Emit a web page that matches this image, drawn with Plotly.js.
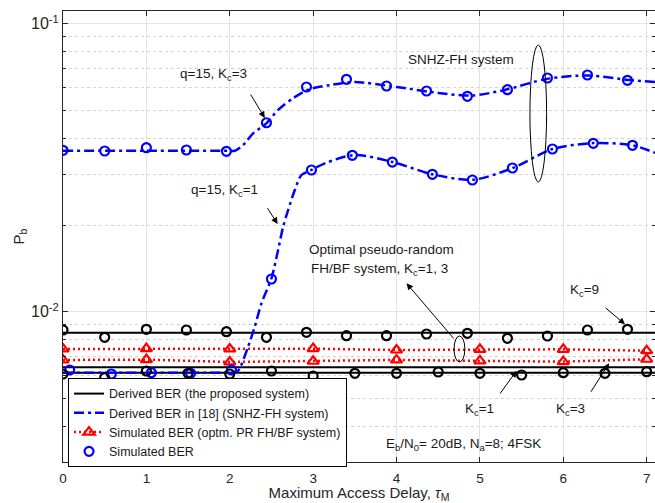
<!DOCTYPE html>
<html>
<head>
<meta charset="utf-8">
<script src="https://cdn.plot.ly/plotly-3.0.1.min.js"></script>
<style>html,body{margin:0;padding:0;background:#fff;}#chart{width:655px;height:503px;}</style>
</head>
<body>
<div id="chart"></div>
<script>
// ---- data ----
var tauSimA = [0, 0.5, 1, 1.48, 1.96, 2.44, 2.92, 3.40, 3.88, 4.36, 4.85, 5.33, 5.81, 6.29, 6.77];
var tauSimB = [0.08, 0.58, 1.06, 1.53, 2.02, 2.50, 2.98, 3.47, 3.95, 4.43, 4.91, 5.39, 5.87, 6.36, 6.83];
var tauHalf = [0, 0.5, 1, 1.5, 2, 2.5, 3, 3.5, 4, 4.5, 5, 5.5, 6, 6.5, 7];
var tauInt  = [0, 1, 2, 3, 4, 5, 6, 7];
var tauFlat = [0, 7.1];

// SNHZ-FH derived (ref [18]), q=15
var tauKc3Line = [0, 1, 2, 2.06, 2.16, 2.28, 2.44, 2.58, 2.76, 2.96, 3.2, 3.5, 4.0, 4.5, 4.9, 5.3, 5.8, 6.3, 6.8, 7.1];
var berKc3Line = [0.0362, 0.0362, 0.0362, 0.0362, 0.0379, 0.0416, 0.0451, 0.0502, 0.0551, 0.0593, 0.0612, 0.0627, 0.0603, 0.0575, 0.0563, 0.0589, 0.0643, 0.0661, 0.0637, 0.0627];
var tauKc1Line = [0, 1, 2, 2.08, 2.12, 2.22, 2.30, 2.38, 2.50, 2.58, 2.64, 2.70, 2.78, 2.86, 2.98, 3.14, 3.5, 3.95, 4.43, 4.91, 5.39, 5.87, 6.36, 6.83, 7.1];
var berKc1Line = [0.00614, 0.00614, 0.00614, 0.00616, 0.00636, 0.00756, 0.00887, 0.01069, 0.01306, 0.01638, 0.01973, 0.02254, 0.02646, 0.02983, 0.03105, 0.03275, 0.0350, 0.0331, 0.0300, 0.0287, 0.0315, 0.0367, 0.0385, 0.0378, 0.0356];

// SNHZ-FH simulated
var simKc3Snhz = [0.03634, 0.03614, 0.03710, 0.03643, 0.03605, 0.04530, 0.06029, 0.06410, 0.06078, 0.05839, 0.05597, 0.05901, 0.06478, 0.06635, 0.06360];
var simKc1Snhz = [0.006275, 0.006076, 0.006140, 0.006110, 0.006275, 0.01299, 0.03105, 0.03491, 0.03308, 0.03000, 0.02866, 0.03155, 0.03672, 0.03843, 0.03783];

// proposed system, derived
var derKc9 = [0.008455, 0.008455];
var derKc3 = [0.006410, 0.006410];
var derKc1 = [0.006140, 0.006140];
// proposed system, simulated
var simKc9 = [0.008639, 0.008148, 0.008687, 0.008639, 0.008522, 0.008148, 0.008481, 0.008254, 0.008254, 0.008366, 0.008414, 0.008083, 0.008234, 0.008639, 0.008687];
var simKc13 = [0.006076, 0.005900, 0.006224, 0.006110, 0.006076, 0.006224, 0.005981, 0.006110, 0.006110, 0.006174, 0.006110, 0.006029, 0.006140, 0.006110, 0.006189];

// optimal PR FH/BF simulated
var prKc3 = [0.007423, 0.007441, 0.007423, 0.007441, 0.007362, 0.007403, 0.007403, 0.007320];
var prKc1 = [0.006799, 0.006817, 0.006690, 0.006728, 0.006799, 0.006747, 0.006709, 0.006837];

var yTickVals = [0.01, 0.1];
var yTickText = ['10<sup>-2</sup>', '10<sup>-1</sup>'];
var yMinorVals = [0.004, 0.005, 0.006, 0.007, 0.008, 0.009, 0.02, 0.03, 0.04, 0.05, 0.06, 0.07, 0.08, 0.09];

// ---- styles ----
var BLUE = '#0000ff', RED = '#ff0000', BLK = '#000000';
var dashDot = '10px,4px,3px,4px';
var blueCircle = {symbol: 'circle-open', size: 9, color: BLUE, line: {width: 2.2, color: BLUE}};
var blackCircle = {symbol: 'circle-open', size: 9, color: BLK, line: {width: 2.2, color: BLK}};
var redTri = {symbol: 'triangle-up-open', size: 10, color: RED, line: {width: 2.2, color: RED}};

var traces = [
  {x: tauFlat, y: derKc9, mode: 'lines', line: {color: BLK, width: 2}, name: 'Derived BER (the proposed system)'},
  {x: tauKc3Line, y: berKc3Line, mode: 'lines', line: {color: BLUE, width: 2.5, dash: dashDot, shape: 'spline', smoothing: 0.8}, name: 'Derived BER in [18] (SNHZ-FH system)'},
  {x: tauInt, y: prKc3, mode: 'lines+markers', line: {color: RED, width: 2.5, dash: '2px,3px'}, marker: redTri, name: 'Simulated BER (optm. PR FH/BF system)'},
  {x: tauSimA, y: simKc3Snhz, mode: 'markers', marker: blueCircle, name: 'Simulated BER'},
  {x: tauFlat, y: derKc3, mode: 'lines', line: {color: BLK, width: 2}, showlegend: false},
  {x: tauFlat, y: derKc1, mode: 'lines', line: {color: BLK, width: 2}, showlegend: false},
  {x: tauInt, y: prKc1, mode: 'lines+markers', line: {color: RED, width: 2.5, dash: '2px,3px'}, marker: redTri, showlegend: false},
  {x: tauKc1Line, y: berKc1Line, mode: 'lines', line: {color: BLUE, width: 2.5, dash: dashDot, shape: 'spline', smoothing: 0.8}, showlegend: false},
  {x: tauSimB, y: simKc1Snhz, mode: 'markers', marker: blueCircle, showlegend: false},
  {x: tauSimA, y: simKc9, mode: 'markers', marker: blackCircle, showlegend: false},
  {x: tauHalf, y: simKc13, mode: 'markers', marker: blackCircle, showlegend: false}
];

var TXT = '#1a1a1a';
function label(x, y, text) {
  return {x: x, y: y, xref: 'x', yref: 'y', text: text, showarrow: false, font: {size: 13.5, color: TXT}};
}
function arrow(x, y, ax, ay) {
  return {x: x, y: y, ax: ax, ay: ay, xref: 'x', yref: 'y', axref: 'x', ayref: 'y', text: '', showarrow: true,
          arrowhead: 2, arrowsize: 1.3, arrowwidth: 1, arrowcolor: '#000', standoff: 0, startstandoff: 0};
}

var annotations = [
  label(1.80, -1.178, 'q=15, K<sub>c</sub>=3'),
  arrow(2.42, -1.3274, 2.24, -1.2406),
  label(1.94, -1.578, 'q=15, K<sub>c</sub>=1'),
  arrow(2.574, -1.6955, 2.44, -1.635),
  label(4.77, -1.1236, 'SNHZ-FH system'),
  label(3.82, -1.7855, 'Optimal pseudo-random'),
  label(3.79, -1.855, 'FH/BF system, K<sub>c</sub>=1, 3'),
  arrow(4.12, -1.9014, 4.70, -2.098),
  label(6.25, -1.9264, 'K<sub>c</sub>=9'),
  arrow(6.74, -2.0438, 6.49, -1.9826),
  label(4.99, -2.3413, 'K<sub>c</sub>=1'),
  arrow(5.44, -2.2049, 5.23, -2.2892),
  label(6.09, -2.3413, 'K<sub>c</sub>=3'),
  arrow(6.55, -2.179, 6.32, -2.2833),
  label(4.80, -2.4628, 'E<sub>b</sub>/N<sub>0</sub>= 20dB, N<sub>a</sub>=8; 4FSK')
];

var shapes = [
  {type: 'circle', xref: 'x', yref: 'paper', x0: 5.60, x1: 5.80, y0: 0.6208, y1: 0.9246, line: {color: '#000', width: 1}},
  {type: 'circle', xref: 'x', yref: 'paper', x0: 4.69, x1: 4.82, y0: 0.2217, y1: 0.2794, line: {color: '#000', width: 1}}
];

var layout = {
  width: 655, height: 503,
  margin: {l: 63, r: 0, t: 11, b: 41, pad: 0},
  paper_bgcolor: '#fff', plot_bgcolor: '#fff',
  font: {family: 'Liberation Sans, Arial, sans-serif', size: 13, color: '#262626'},
  showlegend: true,
  legend: {x: 0.0085, y: 0.1863, xanchor: 'left', yanchor: 'top', bgcolor: '#fff', bordercolor: '#000', borderwidth: 1,
           font: {size: 12.5, color: TXT}, tracegroupgap: 0},
  xaxis: {
    range: [0, 7.1], dtick: 1, tick0: 0, ticks: 'inside', ticklen: 5, tickcolor: '#262626',
    showline: true, linecolor: '#262626', linewidth: 1, mirror: 'ticks',
    showgrid: true, gridcolor: '#e3e3e3', gridwidth: 1, zeroline: false,
    tickfont: {size: 13.5, color: '#262626'}, ticklabelstandoff: 4,
    title: {text: 'Maximum Access Delay, <i>τ</i><sub>M</sub>', font: {size: 15, color: '#262626'}, standoff: 5}
  },
  yaxis: {
    type: 'log', range: [-2.5219, -0.9559], tickmode: 'array', tickvals: yTickVals, ticktext: yTickText,
    ticks: 'inside', ticklen: 5, tickcolor: '#262626',
    showline: true, linecolor: '#262626', linewidth: 1, mirror: 'allticks',
    showgrid: true, gridcolor: '#e3e3e3', gridwidth: 1, zeroline: false,
    minor: {tickmode: 'array', tickvals: yMinorVals, ticks: 'inside', ticklen: 3, tickcolor: '#262626',
            showgrid: true, gridcolor: '#d4d4d4', griddash: 'dot', gridwidth: 1},
    tickfont: {size: 16, color: '#262626'},
    title: {text: 'P<sub>b</sub>', font: {size: 15, color: '#262626'}, standoff: 2}
  },
  annotations: annotations,
  shapes: shapes
};

Plotly.newPlot('chart', traces, layout, {displayModeBar: false, staticPlot: true});
</script>
</body>
</html>
